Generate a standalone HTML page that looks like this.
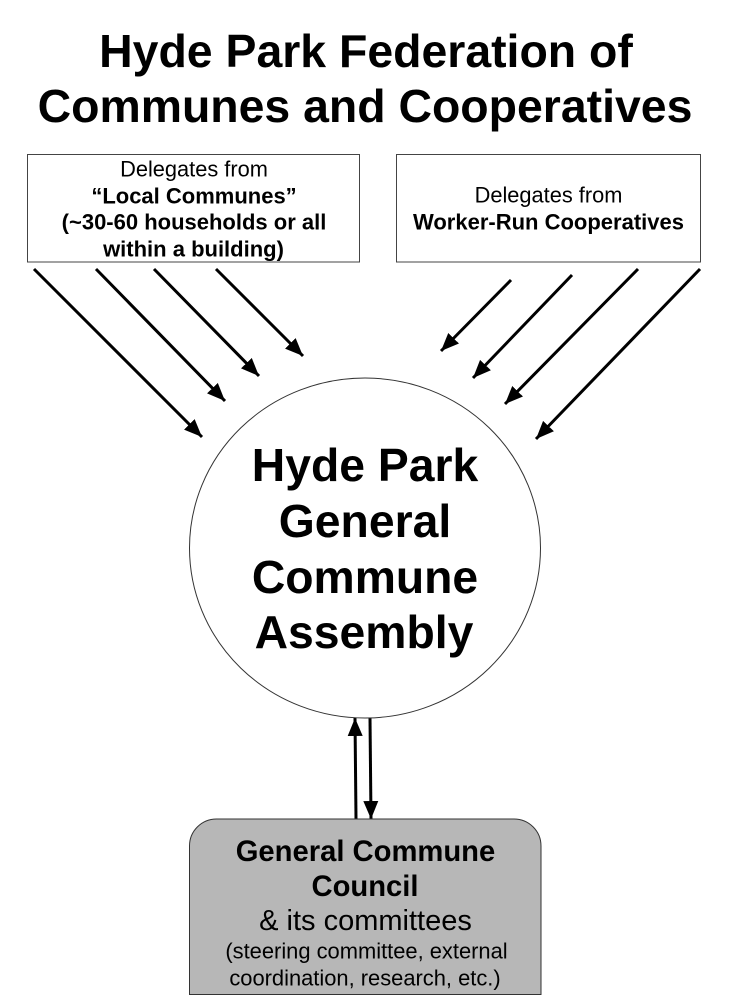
<!DOCTYPE html>
<html><head><meta charset="utf-8"><style>
html,body{margin:0;padding:0;background:#fff}
svg{display:block;filter:blur(0.35px)}
text{font-family:"Liberation Sans",sans-serif;fill:#000;text-anchor:middle}
.b{font-weight:bold}
</style></head><body>
<svg width="735" height="1000" viewBox="0 0 735 1000" xmlns="http://www.w3.org/2000/svg">
<defs><marker id="a" markerUnits="userSpaceOnUse" markerWidth="20" markerHeight="16" refX="18" refY="8" orient="auto"><path d="M0 0.5L18 8L0 15.5Z" fill="#000"/></marker></defs>
<text class="b" x="366" y="67" font-size="46.4">Hyde Park Federation of</text>
<text class="b" x="365" y="122" font-size="46.4">Communes and Cooperatives</text>
<rect x="27.5" y="154.5" width="332" height="107.5" fill="#fff" stroke="#444"/>
<rect x="396.5" y="154.5" width="304" height="107.5" fill="#fff" stroke="#444"/>
<text x="194" y="176.6" font-size="21.8">Delegates from</text>
<text class="b" x="194" y="203.6" font-size="22">“Local Communes”</text>
<text class="b" x="194" y="229.6" font-size="22">(~30-60 households or all</text>
<text class="b" x="193.5" y="256.6" font-size="22">within a building)</text>
<text x="548.5" y="202.6" font-size="21.8">Delegates from</text>
<text class="b" x="548.5" y="229.6" font-size="22">Worker-Run Cooperatives</text>
<g stroke="#000" stroke-width="3" fill="none">
<line x1="34" y1="269" x2="202" y2="437" marker-end="url(#a)"/>
<line x1="96" y1="269" x2="225" y2="401" marker-end="url(#a)"/>
<line x1="154" y1="269" x2="259" y2="376" marker-end="url(#a)"/>
<line x1="216" y1="269" x2="303" y2="356" marker-end="url(#a)"/>
<line x1="511" y1="280" x2="441" y2="351" marker-end="url(#a)"/>
<line x1="572" y1="275" x2="473" y2="378" marker-end="url(#a)"/>
<line x1="638" y1="269" x2="505" y2="404" marker-end="url(#a)"/>
<line x1="700" y1="269" x2="536" y2="439" marker-end="url(#a)"/>
<line x1="356" y1="819" x2="355" y2="718" marker-end="url(#a)"/>
<line x1="370" y1="718" x2="371" y2="819" marker-end="url(#a)"/>
</g>
<ellipse cx="365" cy="548" rx="175.5" ry="170" fill="none" stroke="#333"/>
<text class="b" x="365" y="481" font-size="46.3">Hyde Park</text>
<text class="b" x="365" y="537" font-size="46.3">General</text>
<text class="b" x="365" y="593" font-size="46.3">Commune</text>
<text class="b" x="364" y="648" font-size="46.3">Assembly</text>
<path d="M189.5 994.5V846a27 27 0 0 1 27-27H514a27 27 0 0 1 27 27V994.5Z" fill="#b7b7b7" stroke="#333"/>
<text class="b" x="365.5" y="861" font-size="29.2">General Commune</text>
<text class="b" x="365" y="896" font-size="29.2">Council</text>
<text x="365.5" y="930" font-size="29">&amp; its committees</text>
<text x="366.5" y="958.5" font-size="21.9">(steering committee, external</text>
<text x="365" y="985.5" font-size="21.9">coordination, research, etc.)</text>
</svg>
</body></html>
